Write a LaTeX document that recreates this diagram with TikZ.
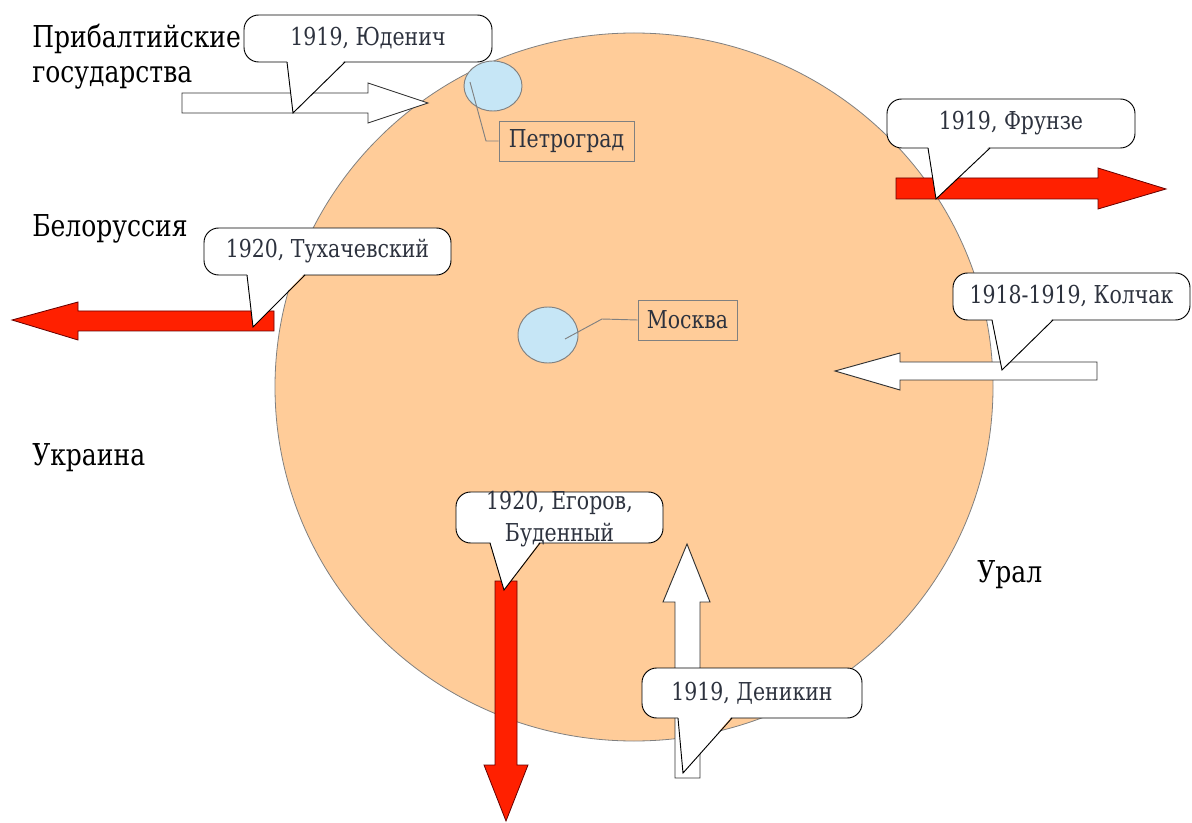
\documentclass[tikz,border=0pt]{standalone}
\usepackage{fontspec}
\setmainfont{DejaVu Serif}[FakeStretch=0.83]
\usetikzlibrary{shapes.geometric}
\definecolor{peach}{RGB}{255,204,153}
\definecolor{lblue}{RGB}{198,230,246}
\definecolor{ared}{RGB}{255,32,0}
\definecolor{txt}{RGB}{45,50,62}
\definecolor{edge}{RGB}{128,128,128}
\begin{document}
\begin{tikzpicture}[x=0.75pt,y=-0.75pt,
  region/.style={anchor=base west, inner sep=0, font=\fontsize{22.6}{27}\selectfont, text=black},
  cbox/.style={draw=black, fill=white, rounded corners=11pt, line width=0.7pt, inner sep=0},
  ctext/.style={font=\fontsize{18.5}{24}\selectfont, text=txt, align=center, inner sep=0},
  wedgefill/.style={fill=white, draw=none},
  wedgeline/.style={draw=black, line width=0.7pt, line join=miter},
  whitearrow/.style={draw=black!80, fill=white, line width=0.7pt},
  redarrow/.style={draw=black!60!red, fill=ared, line width=0.6pt},
  city/.style={ellipse, draw=edge, fill=lblue, line width=0.7pt, inner sep=0},
  citybox/.style={draw=edge, line width=0.7pt, inner sep=0, font=\fontsize{18.5}{24}\selectfont, text=txt},
  leader/.style={draw=edge, line width=0.7pt}
]
\fill[white] (0,0) rectangle (1192,823);
\useasboundingbox (0,0) rectangle (1192,823);

% big circle
\fill[peach, draw=edge, line width=0.6pt] (634,387) ellipse [x radius=359, y radius=354];

% cities
\node[city, minimum width=43.5pt, minimum height=37.5pt] (petro) at (493,86) {};
\node[citybox, minimum width=101.25pt, minimum height=30pt] (pbox) at (566.5,141) {Петроград};
\coordinate (p0) at (470,82);
\coordinate (p1) at (486,141);
\draw[leader] (p0) -- (p1) -- (pbox.west);

\node[city, minimum width=45pt, minimum height=42pt] (moscow) at (548,335) {};
\node[citybox, minimum width=74.25pt, minimum height=30pt] (mbox) at (687.5,320) {Москва};
\coordinate (m0) at (565,339);
\coordinate (m1) at (602,319);
\draw[leader] (m0) -- (m1) -- (mbox.west);

% region labels
\node[region] (baltic1) at (32,48) {Прибалтийские};
\node[region] (baltic2) at (32,83) {государства};
\node[region] (belarus) at (32,237) {Белоруссия};
\node[region] (ukraine) at (32,465) {Украина};
\node[region] (ural) at (977,582) {Урал};

% arrows
\draw[whitearrow] (182,93) -- (368,93) -- (368,83) -- (428,103) -- (368,123) -- (368,113) -- (182,113) -- cycle;
\draw[redarrow] (896,178) -- (1098,178) -- (1098,168) -- (1166,189) -- (1098,209) -- (1098,199) -- (896,199) -- cycle;
\draw[redarrow] (274,311) -- (78,311) -- (78,302) -- (12,320) -- (78,340) -- (78,331) -- (274,331) -- cycle;
\draw[whitearrow] (1097,362) -- (900,362) -- (900,353) -- (835,371) -- (900,390) -- (900,380) -- (1097,380) -- cycle;
\draw[redarrow] (495,581) -- (517,581) -- (517,765) -- (528,765) -- (506,821) -- (484,765) -- (495,765) -- cycle;
\draw[whitearrow] (675,778) -- (675,602) -- (663,602) -- (687,544) -- (710,602) -- (700,602) -- (700,778) -- cycle;

% callouts
% Yudenich
\node[cbox, minimum width=186pt, minimum height=35.25pt] (yb) at (368,38.5) {};
\coordinate (yt) at (293,113);
\fill[wedgefill] (287,60) -- (yt) -- (345,60) -- cycle;
\draw[wedgeline] (287,62) -- (yt) -- (345,62);
\node[ctext] (ytx) at (yb) {1919, Юденич};

% Frunze
\node[cbox, minimum width=186pt, minimum height=36.75pt] (fb) at (1011,123.5) {};
\coordinate (ft) at (936,199);
\fill[wedgefill] (928,146) -- (ft) -- (990,146) -- cycle;
\draw[wedgeline] (928,148) -- (ft) -- (990,148);
\node[ctext] (ftx) at (fb) {1919, Фрунзе};

% Tukhachevsky
\node[cbox, minimum width=185.25pt, minimum height=35.25pt] (tb) at (327.5,251.5) {};
\coordinate (tt) at (253,327);
\fill[wedgefill] (247,273) -- (tt) -- (305,273) -- cycle;
\draw[wedgeline] (247,275) -- (tt) -- (305,275);
\node[ctext] (ttx) at (tb) {1920, Тухачевский};

% Kolchak
\node[cbox, minimum width=177.75pt, minimum height=35.25pt] (kb) at (1071.5,296.5) {};
\coordinate (kt) at (1002,370);
\fill[wedgefill] (992,318) -- (kt) -- (1053,318) -- cycle;
\draw[wedgeline] (992,320) -- (kt) -- (1053,320);
\node[ctext] (ktx) at (kb) {1918-1919, Колчак};

% Egorov, Budenny
\node[cbox, minimum width=155.25pt, minimum height=38.25pt] (eb) at (559.5,517.5) {};
\coordinate (et) at (504,590);
\fill[wedgefill] (490,541) -- (et) -- (540,541) -- cycle;
\draw[wedgeline] (490,543) -- (et) -- (540,543);
\node[ctext] (etx) at (559.5,519) {1920, Егоров,\\[0pt]Буденный};

% Denikin
\node[cbox, minimum width=165pt, minimum height=37.5pt] (db) at (752,693) {};
\coordinate (dt) at (683,773);
\fill[wedgefill] (678,716) -- (dt) -- (732,716) -- cycle;
\draw[wedgeline] (678,718) -- (dt) -- (732,718);
\node[ctext] (dtx) at (db) {1919, Деникин};
\end{tikzpicture}
\end{document}
